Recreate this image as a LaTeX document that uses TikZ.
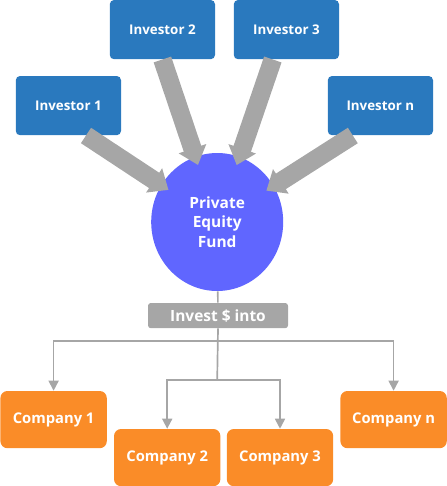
\documentclass[tikz,border=0pt]{standalone}
\usepackage{fontspec}
\setmainfont{Open Sans}
\usepackage{xcolor}
\usepackage{tikz}
\usetikzlibrary{arrows.meta,shapes.geometric}

\definecolor{invblue}{HTML}{2A79BE}
\definecolor{fundblue}{HTML}{6066FF}
\definecolor{coorange}{HTML}{FA8C28}
\definecolor{arrgrey}{HTML}{A6A6A6}

\begin{document}
\begin{tikzpicture}[
  font=\bfseries,
  box/.style={fill,text=white,inner sep=0pt,align=center},
  ib/.style={box,fill=invblue,minimum width=2.63cm,minimum height=1.48cm,
             rounded corners=3pt,font=\fontsize{9.5}{11}\bfseries},
  cb/.style={box,fill=coorange,minimum width=2.66cm,minimum height=1.43cm,
             rounded corners=5pt,font=\fontsize{10.5}{12}\bfseries},
  fund/.style={box,fill=fundblue,ellipse,minimum width=3.3cm,minimum height=3.45cm,
               font=\fontsize{11}{14}\bfseries},
  tag/.style={box,fill=arrgrey,minimum width=3.5cm,minimum height=0.63cm,
              rounded corners=2pt,font=\fontsize{11}{13}\bfseries},
  fat/.style={arrgrey,line width=0.46cm,shorten >=-0.22cm,
              -{Triangle[length=0.43cm,width=0.7cm]}},
  link/.style={arrgrey,line width=1.2pt},
  >={Triangle[length=0.25cm,width=0.25cm]}
]
\useasboundingbox (0,0) rectangle (11.175,-12.15);
% ---- investors ----
\node[ib] (i2) at (4.06,-0.74) {Investor 2};
\node[ib] (i3) at (7.16,-0.74) {Investor 3};
\node[ib] (i1) at (1.71,-2.64) {Investor 1};
\node[ib] (in) at (9.51,-2.64) {Investor n};
% ---- the fund ----
\node[fund] (pef) at (5.43,-5.55) {Private\\Equity\\Fund};
\node[tag] (tg) at (5.45,-7.89) {Invest \$ into};
% ---- companies ----
\node[cb] (c1) at (1.34,-10.49) {Company 1};
\node[cb] (c2) at (4.18,-11.44) {Company 2};
\node[cb] (c3) at (7.00,-11.44) {Company 3};
\node[cb] (cn) at (9.84,-10.49) {Company n};
% ---- money flowing in ----
\draw[fat] ([xshift=0.44cm]i1.south) -- (pef);
\draw[fat] (i2.south) -- (pef);
\draw[fat] ([xshift=-0.34cm]i3.south) -- (pef);
\draw[fat] ([xshift=-0.69cm]in.south) -- (pef);
% ---- money flowing out ----
\coordinate (hb) at (5.43,-8.52);
\coordinate (lb) at (5.43,-9.50);
\draw[link] (pef) -- (tg);
\draw[link] (tg.south) -- (lb);
\draw[link,->] (hb) -| (c1.north);
\draw[link,->] (hb) -| (cn.north);
\draw[link,->] (lb) -| (c2.north);
\draw[link,->] (lb) -| (c3.north);
\end{tikzpicture}
\end{document}
